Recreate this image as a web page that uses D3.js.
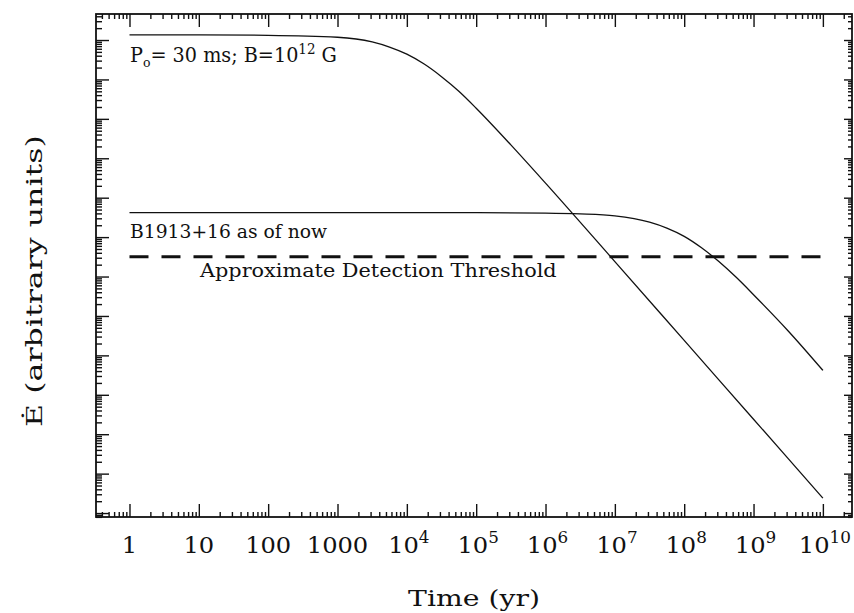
<!DOCTYPE html>
<html>
<head>
<meta charset="UTF-8">
<script src="https://d3js.org/d3.v7.min.js"></script>
<style>
  * { margin: 0; padding: 0; }
  body { background: #fff; width: 854px; height: 613px; overflow: hidden; }
  svg { display: block; }
  text { font-family: 'DejaVu Serif', 'Liberation Serif', serif; fill: #111; }
</style>
</head>
<body>
<svg id="chart" width="854" height="613"></svg>
<script>
// curve 1: P0 = 30 ms, B = 1e12 G  (log10 time in yr, log10 Edot)
const logTimeYoung = [0, 1, 2, 3, 3.5, 3.75, 4, 4.25, 4.5, 4.75, 5, 5.5, 6, 7, 8, 9, 10];
const logEdotYoung = [12.13, 12.13, 12.12, 12.07, 11.95, 11.82, 11.64, 11.39, 11.07, 10.70, 10.27, 9.34, 8.37, 6.38, 4.38, 2.38, 0.38];

// curve 2: B1913+16 as of now
const logTimePsr = [0, 2, 4, 5, 6, 6.5, 7, 7.5, 7.75, 8, 8.25, 8.5, 8.75, 9, 9.5, 10];
const logEdotPsr = [7.62, 7.62, 7.62, 7.62, 7.61, 7.59, 7.54, 7.38, 7.23, 7.02, 6.73, 6.38, 5.98, 5.54, 4.62, 3.62];

// dashed detection threshold
const logTimeThreshold = [0, 10];
const logEdotThreshold = [6.505, 6.505];

// bottom tick labels
const xLabelBase = ['1', '10', '100', '1000', '10', '10', '10', '10', '10', '10', '10'];
const xLabelSup  = ['', '', '', '', '4', '5', '6', '7', '8', '9', '10'];

(function() {
  const L = 96, R = 852, T = 14, B = 517;
  const svg = d3.select('#chart');

  const x = d3.scaleLog().domain([10 ** -0.483, 10 ** 10.42]).range([L, R]);
  const y = d3.scaleLog().domain([10 ** -0.1, 10 ** 12.66]).range([B, T]);

  // tick values: decades and 2..9 minors inside the domain
  function logTicks(scale, lo, hi) {
    const [d0, d1] = scale.domain();
    const major = [], minor = [];
    for (let n = lo; n <= hi; n++) {
      const v = 10 ** n;
      if (v >= d0 && v <= d1) major.push(v);
      for (let k = 2; k <= 9; k++) {
        const m = k * 10 ** n;
        if (m >= d0 && m <= d1) minor.push(m);
      }
    }
    return { major, minor };
  }
  const xt = logTicks(x, -1, 11);
  const yt = logTicks(y, -1, 13);

  function addAxis(gen, scale, vals, size, tx, ty) {
    svg.append('g')
      .attr('transform', 'translate(' + tx + ',' + ty + ')')
      .call(gen(scale).tickValues(vals).tickSize(size).tickFormat(''))
      .call(g => g.select('.domain').remove())
      .call(g => g.selectAll('line').attr('stroke', '#111').attr('stroke-width', 1.4));
  }
  // ticks point inward on all four sides
  addAxis(d3.axisBottom, x, xt.major, -13, 0, B);
  addAxis(d3.axisBottom, x, xt.minor, -5, 0, B);
  addAxis(d3.axisTop, x, xt.major, -13, 0, T);
  addAxis(d3.axisTop, x, xt.minor, -5, 0, T);
  addAxis(d3.axisLeft, y, yt.major, -13, L, 0);
  addAxis(d3.axisLeft, y, yt.minor, -6, L, 0);
  addAxis(d3.axisRight, y, yt.major, -8, R, 0);
  addAxis(d3.axisRight, y, yt.minor, -4, R, 0);

  // frame
  svg.append('rect')
    .attr('x', L).attr('y', T).attr('width', R - L).attr('height', B - T)
    .attr('fill', 'none').attr('stroke', '#111').attr('stroke-width', 1.8);

  // stretch a text horizontally to the width measured on the reference
  function fit(t, px, py, width, rot) {
    const w = t.node().getComputedTextLength();
    t.attr('transform', 'translate(' + px + ',' + py + ')' + (rot ? ' rotate(' + rot + ')' : '') +
      ' scale(' + (width / w).toFixed(3) + ',1)');
  }

  // bottom labels
  xLabelBase.forEach((base, i) => {
    const t = svg.append('text')
      .attr('text-anchor', 'middle').attr('font-size', 23);
    t.append('tspan').text(base);
    if (xLabelSup[i]) t.append('tspan').attr('dy', -10).attr('font-size', 16).text(xLabelSup[i]);
    const w = t.node().getComputedTextLength();
    fit(t, x(10 ** i) + (xLabelSup[i] ? 2 : 0), 553, w * 1.05);
  });

  fit(svg.append('text').attr('text-anchor', 'middle').attr('font-size', 23).text('Time (yr)'),
    474, 606, 132);

  fit(svg.append('text').attr('text-anchor', 'middle').attr('font-size', 23).text('Ė (arbitrary units)'),
    42, 281, 292, -90);

  // curves
  const line = d3.line()
    .x(d => x(10 ** d[0]))
    .y(d => y(10 ** d[1]))
    .curve(d3.curveMonotoneX);

  svg.append('path')
    .datum(d3.zip(logTimeYoung, logEdotYoung))
    .attr('d', line).attr('fill', 'none').attr('stroke', '#111').attr('stroke-width', 1.3);
  svg.append('path')
    .datum(d3.zip(logTimePsr, logEdotPsr))
    .attr('d', line).attr('fill', 'none').attr('stroke', '#111').attr('stroke-width', 1.3);
  svg.append('path')
    .datum(d3.zip(logTimeThreshold, logEdotThreshold))
    .attr('d', line).attr('fill', 'none').attr('stroke', '#111').attr('stroke-width', 3)
    .attr('stroke-dasharray', '19 13');

  // annotations
  const a1 = svg.append('text').attr('font-size', 20);
  a1.append('tspan').text('P');
  a1.append('tspan').attr('dy', 5).attr('font-size', 13).text('o');
  a1.append('tspan').attr('dy', -5).text('= 30 ms; B=10');
  a1.append('tspan').attr('dy', -8).attr('font-size', 14).text('12');
  a1.append('tspan').attr('dy', 8).text(' G');
  fit(a1, 130, 62, 207);

  fit(svg.append('text').attr('font-size', 18).text('B1913+16 as of now'), 130, 238, 197);

  fit(svg.append('text').attr('font-size', 18).text('Approximate Detection Threshold'), 200, 277, 357);
})();
</script>
</body>
</html>
